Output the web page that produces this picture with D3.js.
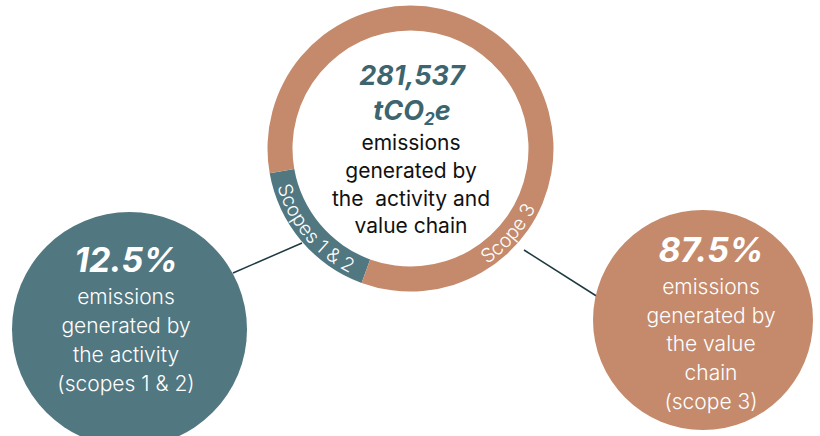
<!DOCTYPE html>
<html>
<head>
<meta charset="utf-8">
<script src="https://cdn.jsdelivr.net/npm/d3@7"></script>
<style>
  body { margin: 0; background: #fff; }
  svg { display: block; font-family: Inter, "Noto Sans", sans-serif; }
</style>
</head>
<body>
<svg id="chart" width="820" height="436"></svg>
<script>
// data
var segments = ["Scopes 1 & 2", "Scope 3"];
var shares = [12.5, 87.5];            // % of total emissions
var ringSweep = [60, 300];            // degrees each segment takes in the ring as drawn
var total = "281,537";
var centerLines = ["emissions", "generated by", "the  activity and", "value chain"];
var bubbleLines = [
  ["emissions", "generated by", "the activity", "(scopes 1 & 2)"],
  ["emissions", "generated by", "the value", "chain", "(scope 3)"]
];

var colors = ["#517781", "#c48a6b"];
var dark = "#3d6570";

var svg = d3.select("#chart");

var cx = 410.5, cy = 148.5, rOut = 143, rIn = 118;

var pie = d3.pie().sort(null).value(function(d) { return d; })
  .startAngle(200 * Math.PI / 180).endAngle(560 * Math.PI / 180);
var arcs = pie(ringSweep);
var arc = d3.arc().innerRadius(rIn).outerRadius(rOut);

// connector lines (behind everything)
var lines = [
  [[233, 273], [302, 243]],
  [[524, 250], [598, 297]]
];
svg.selectAll("line.conn").data(lines).enter().append("line")
  .attr("class", "conn")
  .attr("x1", function(d) { return d[0][0]; }).attr("y1", function(d) { return d[0][1]; })
  .attr("x2", function(d) { return d[1][0]; }).attr("y2", function(d) { return d[1][1]; })
  .attr("stroke", "#1d3a42").attr("stroke-width", 1.5);

var ring = svg.append("g").attr("transform", "translate(" + cx + "," + cy + ")");
ring.selectAll("path.seg").data(arcs).enter().append("path")
  .attr("class", "seg")
  .attr("d", arc)
  .attr("fill", function(d, i) { return colors[i]; });

// labels along the ring, running counter-clockwise so glyph tops face the centre
var rText = 138.5;
var defs = svg.append("defs");
arcs.forEach(function(a, i) {
  var mid = (a.startAngle + a.endAngle) / 2;
  if (i == 1) mid = 131 * Math.PI / 180;
  var a0 = mid + 0.9, a1 = mid - 0.9;
  var p0 = [rText * Math.sin(a0), -rText * Math.cos(a0)];
  var p1 = [rText * Math.sin(a1), -rText * Math.cos(a1)];
  defs.append("path").attr("id", "lp" + i)
    .attr("d", "M" + p0 + " A" + rText + "," + rText + " 0 0 0 " + p1);
  ring.append("text")
    .attr("font-size", 19.5).attr("font-weight", 300)
    .attr("fill", "#fff")
    .append("textPath").attr("href", "#lp" + i)
    .attr("startOffset", "50%").attr("text-anchor", "middle")
    .text(segments[i]);
});

// centre text
var ct = svg.append("g").attr("text-anchor", "middle");
ct.append("text").attr("x", 412).attr("y", 85)
  .attr("font-size", 27).attr("font-weight", 700).attr("font-style", "italic")
  .attr("fill", dark).text(total);
var t2 = ct.append("text").attr("x", 412).attr("y", 120)
  .attr("font-size", 27).attr("font-weight", 700).attr("font-style", "italic")
  .attr("fill", dark);
t2.append("tspan").text("tCO");
t2.append("tspan").attr("font-size", 17).attr("dy", 5).text("2");
t2.append("tspan").attr("dy", -5).text("e");
ct.selectAll("text.cl").data(centerLines).enter().append("text")
  .attr("class", "cl")
  .attr("x", 411)
  .attr("y", function(d, i) { return 150 + i * 27.8; })
  .attr("font-size", 21).attr("fill", "#111")
  .style("white-space", "pre")
  .text(function(d) { return d; });

// bubbles
var bubbles = [
  { x: 129.5, y: 329.5, r: 117.5, tx: 126, ty: 272, step: 29 },
  { x: 703, y: 320, r: 110, tx: 711, ty: 262, step: 28.7 }
];
bubbles.forEach(function(b, i) {
  var g = svg.append("g");
  g.append("circle").attr("cx", b.x).attr("cy", b.y).attr("r", b.r).attr("fill", colors[i]);
  g.append("text").attr("x", b.tx).attr("y", b.ty)
    .attr("text-anchor", "middle")
    .attr("font-size", 34).attr("font-weight", 700).attr("font-style", "italic")
    .attr("fill", "#fff").text(d3.format(".1f")(shares[i]) + "%");
  g.selectAll("text.bl").data(bubbleLines[i]).enter().append("text")
    .attr("class", "bl")
    .attr("x", b.tx)
    .attr("y", function(d, j) { return b.ty + 32 + j * b.step; })
    .attr("text-anchor", "middle")
    .attr("font-size", 21).attr("font-weight", 300)
    .attr("fill", "#fff")
    .text(function(d) { return d; });
});
</script>
</body>
</html>
